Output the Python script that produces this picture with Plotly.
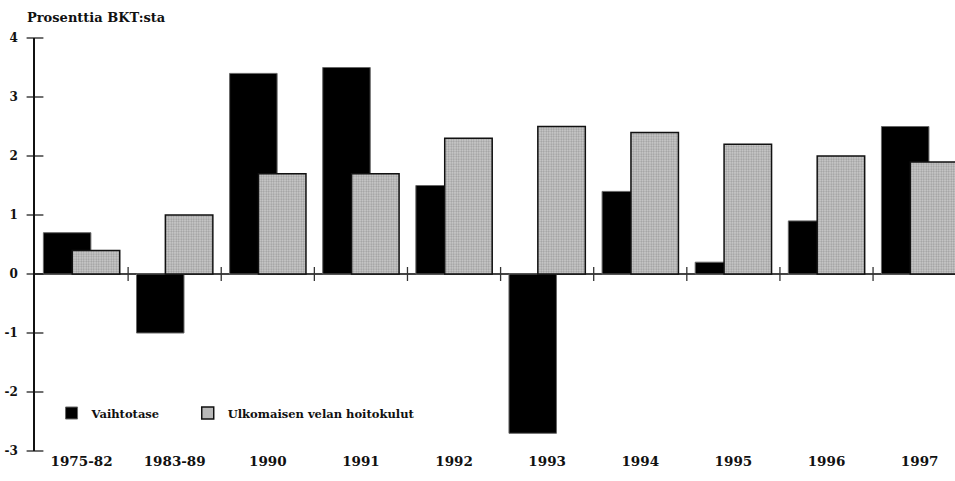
import plotly.graph_objects as go

categories = ["1975-82", "1983-89", "1990", "1991", "1992", "1993", "1994", "1995", "1996", "1997"]
vaihtotase = [0.7, -1.0, 3.4, 3.5, 1.5, -2.7, 1.4, 0.2, 0.9, 2.5]
velan_hoitokulut = [0.4, 1.0, 1.7, 1.7, 2.3, 2.5, 2.4, 2.2, 2.0, 1.9]
y_ticks = [-3, -2, -1, 0, 1, 2, 3, 4]
y_tick_labels = [str(v) for v in y_ticks]

xpos = list(range(len(categories)))
serif = "DejaVu Serif"

fig = go.Figure()
fig.add_trace(go.Bar(
    x=xpos, y=vaihtotase, name="Vaihtotase", legend="legend",
    width=0.51, offset=-0.41,
    marker=dict(color="#000000", line=dict(color="#666666", width=1)),
    hoverinfo="skip",
))
fig.add_trace(go.Bar(
    x=xpos, y=velan_hoitokulut, name="Ulkomaisen velan hoitokulut", legend="legend2",
    width=0.51, offset=-0.10,
    marker=dict(color="#bcbcbc", line=dict(color="#111111", width=1.5),
                pattern=dict(shape=".", fgcolor="#686868", bgcolor="#cdcdcd", size=2.5, solidity=0.45)),
    hoverinfo="skip",
))
# tick marks on the zero line between categories
fig.add_trace(go.Scatter(
    x=[p + 0.5 for p in xpos], y=[0] * len(xpos), mode="markers",
    marker=dict(symbol="line-ns", size=10, line=dict(color="#333333", width=1.3)),
    showlegend=False, hoverinfo="skip", cliponaxis=False,
))
# crossing ticks on y axis
fig.add_trace(go.Scatter(
    x=[-0.5] * len(y_ticks), y=y_ticks, mode="markers",
    marker=dict(symbol="line-ew", size=12, line=dict(color="#222222", width=1.3)),
    showlegend=False, hoverinfo="skip", cliponaxis=False,
))

legend_font = dict(family=serif, size=11.5, color="#111111", weight="bold")
fig.update_layout(
    width=955, height=481,
    margin=dict(l=35, r=0, t=38, b=30, autoexpand=False),
    paper_bgcolor="white", plot_bgcolor="white",
    barmode="overlay",
    showlegend=True,
    legend=dict(orientation="h", x=0.018, y=0.092, xanchor="left", yanchor="middle",
                bgcolor="rgba(0,0,0,0)", font=legend_font),
    legend2=dict(orientation="h", x=0.166, y=0.092, xanchor="left", yanchor="middle",
                 bgcolor="rgba(0,0,0,0)", font=legend_font),
    font=dict(family=serif, color="#111111"),
)
fig.update_xaxes(
    range=[-0.5, 9.38], tickvals=xpos, ticktext=categories,
    showgrid=False, zeroline=False, showline=False, ticks="",
    tickfont=dict(family=serif, size=13.5, color="#111111", weight="bold"),
)
fig.update_yaxes(
    range=[-3, 4], tickvals=y_ticks, ticktext=y_tick_labels, showgrid=False,
    zeroline=True, zerolinecolor="#444444", zerolinewidth=1.5,
    showline=True, linecolor="#111111", linewidth=1.5, ticks="",
    ticklabelstandoff=13,
    tickfont=dict(family=serif, size=12, color="#111111", weight="bold"),
)
fig.add_annotation(
    text="Prosenttia BKT:sta", xref="paper", yref="paper",
    x=-0.011, y=(451 - 18) / 413, xanchor="left", yanchor="middle", showarrow=False,
    font=dict(family=serif, size=13, color="#111111", weight="bold"),
)

fig.write_html("out.html", config={"displayModeBar": False},
               post_script="document.body.style.margin='0';")
